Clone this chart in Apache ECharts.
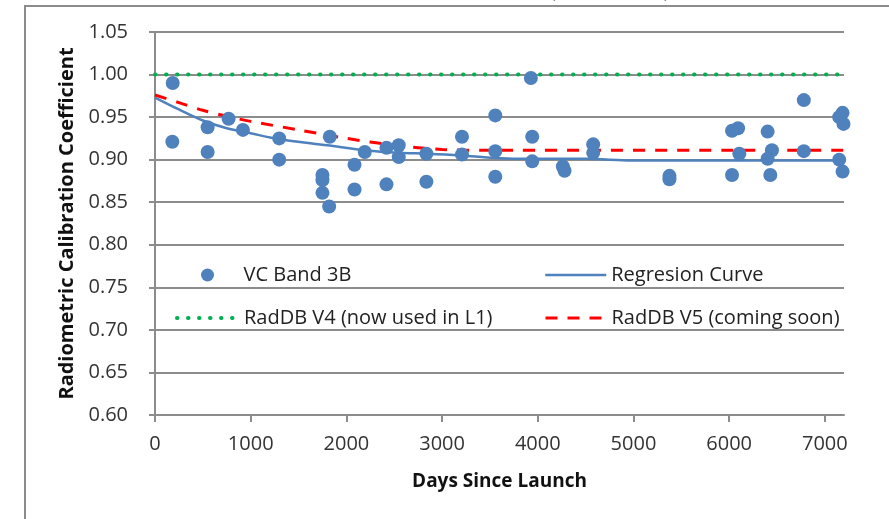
<!DOCTYPE html>
<html>
<head>
<meta charset="utf-8">
<script src="https://cdn.jsdelivr.net/npm/echarts@6/dist/echarts.min.js"></script>
<style>
html, body { margin: 0; padding: 0; background: #fff; }
#chart { width: 889px; height: 519px; }
</style>
</head>
<body>
<div id="chart"></div>
<script>
// tick labels
var xTicks = [0, 1000, 2000, 3000, 4000, 5000, 6000, 7000];

// VC Band 3B measurements (days since launch / coefficient)
var bandDays = [185, 181, 550, 550, 769, 919, 1298, 1298, 1750, 1750, 1750, 1820, 1827,
    2192, 2085, 2085, 2419, 2419, 2547, 2547, 2836, 2836, 3208, 3208, 3556, 3556, 3556,
    3928, 3942, 3942, 4262, 4280, 4579, 4579, 5376, 5376, 6030, 6093, 6106, 6030,
    6402, 6447, 6402, 6430, 6780, 6780, 7185, 7150, 7195, 7150, 7185];
var bandValues = [0.990, 0.921, 0.938, 0.909, 0.948, 0.935, 0.925, 0.900, 0.882, 0.876, 0.861, 0.845, 0.927,
    0.909, 0.894, 0.865, 0.914, 0.871, 0.917, 0.903, 0.907, 0.874, 0.927, 0.906, 0.952, 0.910, 0.880,
    0.996, 0.927, 0.898, 0.892, 0.887, 0.918, 0.908, 0.881, 0.877, 0.934, 0.937, 0.907, 0.882,
    0.933, 0.911, 0.901, 0.882, 0.970, 0.910, 0.955, 0.950, 0.942, 0.900, 0.886];

// regression curve
var regDays = [0, 250, 500, 750, 1000, 1300, 1800, 2200, 2550, 2850, 3200, 3550, 3950, 4500, 4750, 5000, 5400, 6100, 7200];
var regValues = [0.973, 0.959, 0.946, 0.937, 0.931, 0.924, 0.917, 0.911, 0.908, 0.907, 0.905, 0.902, 0.901, 0.901, 0.900, 0.899, 0.899, 0.899, 0.899];

// RadDB V4
var v4Days = [0, 7200];
var v4Values = [1.00, 1.00];

// RadDB V5
var v5Days = [0, 250, 500, 750, 1000, 1500, 2000, 2500, 3000, 3500, 7200];
var v5Values = [0.976, 0.967, 0.958, 0.951, 0.945, 0.935, 0.925, 0.917, 0.912, 0.911, 0.911];

function zip(a, b) {
    var out = [];
    for (var i = 0; i < a.length; i++) {
        out.push([a[i], b[i]]);
    }
    return out;
}

var chart = echarts.init(document.getElementById('chart'));

var FONT = 'Open Sans';
var GRID = '#8c8c8c';
var BLUE = '#4f81bd';

// one legend box per entry, so each sits where it does in the picture
function legendAt(name, left, top, w, extra) {
    var lg = {
        data: [{ name: name, itemStyle: extra && extra.hideSymbol ? { opacity: 0 } : undefined }],
        left: left,
        top: top,
        padding: 0,
        itemWidth: w,
        itemHeight: 13,
        itemGap: 0,
        selectedMode: false,
        textStyle: { fontFamily: FONT, fontSize: 20, color: '#222', lineHeight: 20, padding: [0, 0, 0, 0] }
    };
    if (extra && extra.lineStyle) lg.lineStyle = extra.lineStyle;
    if (extra && extra.icon) lg.icon = extra.icon;
    return lg;
}

var option = {
    backgroundColor: '#fff',
    animation: false,
    grid: { left: 155, right: 45, top: 32, bottom: 104, containLabel: false },
    graphic: [
        {
            type: 'rect',
            shape: { x: 25, y: 6, width: 900, height: 540 },
            style: { fill: 'none', stroke: '#8c8c8c', lineWidth: 2 },
            silent: true
        },
        {
            type: 'text',
            left: 550,
            top: -19,
            style: { text: '(VC Band 3B)', font: '20px "Open Sans"', fill: '#222' },
            silent: true
        }
    ],
    legend: [
        legendAt('VC Band 3B', 201, 265, 62, { icon: 'circle' }),
        legendAt('Regresion Curve', 544, 265, 61, { hideSymbol: true, lineStyle: { width: 2.5 } }),
        legendAt('RadDB V4 (now used in L1)', 175, 308, 62, { hideSymbol: true, lineStyle: { width: 4, type: [0.5, 10.5], cap: 'round' } }),
        legendAt('RadDB V5 (coming soon)', 544, 308, 61, { hideSymbol: true, lineStyle: { width: 3, type: [12, 10] } })
    ],
    xAxis: {
        type: 'value',
        min: 0,
        max: 7200,
        interval: 1000,
        name: 'Days Since Launch',
        nameLocation: 'middle',
        nameGap: 57,
        nameTextStyle: { fontFamily: FONT, fontSize: 19, fontWeight: 'bold', color: '#111' },
        axisLine: { show: true, lineStyle: { color: GRID, width: 2 } },
        axisTick: { show: true, length: 7, lineStyle: { color: GRID, width: 2 }, customValues: xTicks },
        axisLabel: {
            fontFamily: FONT, fontSize: 20, color: '#333', margin: 19, customValues: xTicks,
            formatter: function (v) { return String(v); }
        },
        splitLine: { show: false }
    },
    yAxis: {
        type: 'value',
        min: 0.6,
        max: 1.05,
        interval: 0.05,
        name: 'Radiometric Calibration Coefficient',
        nameLocation: 'middle',
        nameGap: 70,
        nameTextStyle: { fontFamily: FONT, fontSize: 20, fontWeight: 'bold', color: '#111' },
        axisLine: { show: true, lineStyle: { color: GRID, width: 2 } },
        axisTick: { show: true, length: 6, lineStyle: { color: GRID, width: 2 } },
        axisLabel: {
            fontFamily: FONT, fontSize: 20, color: '#333', margin: 27,
            formatter: function (v) { return v.toFixed(2); }
        },
        splitLine: { show: true, lineStyle: { color: GRID, width: 2 } }
    },
    series: [
        {
            name: 'RadDB V4 (now used in L1)',
            type: 'line',
            data: zip(v4Days, v4Values),
            symbol: 'none',
            z: 2,
            lineStyle: { color: '#00b050', width: 4, type: [0.5, 10.5], cap: 'round' },
            itemStyle: { color: '#00b050' }
        },
        {
            name: 'RadDB V5 (coming soon)',
            type: 'line',
            data: zip(v5Days, v5Values),
            symbol: 'none',
            smooth: 0.3,
            z: 3,
            lineStyle: { color: '#ff0000', width: 3, type: [12, 10] },
            itemStyle: { color: '#ff0000' }
        },
        {
            name: 'Regresion Curve',
            type: 'line',
            data: zip(regDays, regValues),
            symbol: 'none',
            smooth: 0.3,
            z: 4,
            lineStyle: { color: BLUE, width: 2.5 },
            itemStyle: { color: BLUE }
        },
        {
            name: 'VC Band 3B',
            type: 'scatter',
            data: zip(bandDays, bandValues),
            symbol: 'circle',
            symbolSize: 14,
            z: 5,
            itemStyle: { color: BLUE, opacity: 1 }
        }
    ]
};

chart.setOption(option);
window.addEventListener('resize', chart.resize);
</script>
</body>
</html>
